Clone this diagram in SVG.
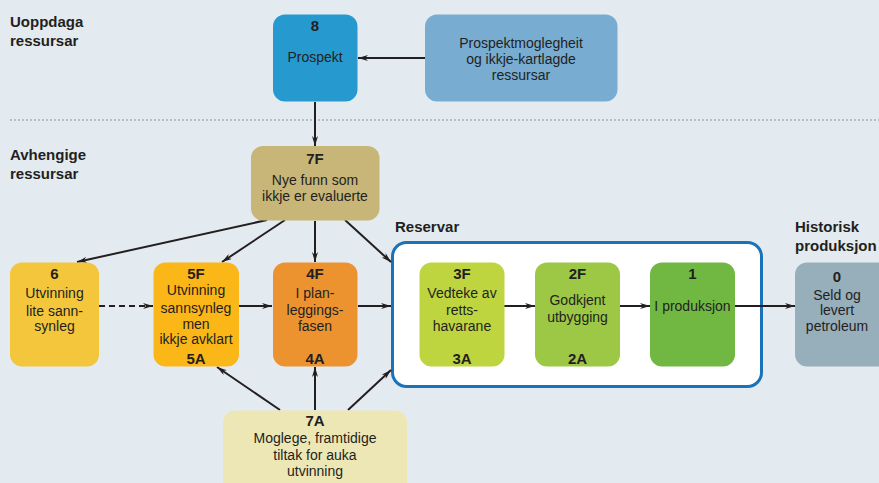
<svg xmlns="http://www.w3.org/2000/svg" width="879" height="483" viewBox="0 0 879 483">
<defs>
<marker id="ah" viewBox="0 0 10 6" refX="10" refY="3" markerWidth="10" markerHeight="6" markerUnits="userSpaceOnUse" orient="auto">
<path d="M0,0 L10,3 L0,6 L3,3 Z" fill="#231f20"/>
</marker>
<style>
text{font-family:"Liberation Sans Narrow","Liberation Sans",Arial,sans-serif;fill:#231f20;text-anchor:middle}
.t{font-size:14px}
.n{font-size:15px;font-weight:bold}
.h{font-size:15px;font-weight:bold;text-anchor:start}
.c line{stroke:#231f20;stroke-width:2;fill:none;marker-end:url(#ah)}
</style>
</defs>
<rect width="879" height="483" fill="#e4ebf0"/>
<line x1="10" y1="120" x2="879" y2="120" stroke="#a9b1b6" stroke-width="1.5" stroke-dasharray="2,2"/>
<g id="labels">
<text class="h" x="10" y="27">Uoppdaga</text>
<text class="h" x="10" y="46">ressursar</text>
<text class="h" x="10" y="160">Avhengige</text>
<text class="h" x="10" y="179">ressursar</text>
<text class="h" x="395" y="232">Reservar</text>
<text class="h" x="795" y="232">Historisk</text>
<text class="h" x="795" y="251">produksjon</text>
</g>
<g id="reservar">
<rect x="392.5" y="242.5" width="369" height="144" rx="14" fill="#ffffff" stroke="#1a72b8" stroke-width="3"/>
</g>
<g class="c" id="connectors">
<line x1="425" y1="58" x2="358" y2="58"/>
<line x1="315" y1="102" x2="315" y2="146"/>
<line x1="267" y1="220" x2="77" y2="262"/>
<line x1="285" y1="220" x2="222" y2="262"/>
<line x1="315" y1="221" x2="315" y2="262"/>
<line x1="345" y1="220" x2="391" y2="262"/>
<line x1="99" y1="306" x2="153" y2="306" stroke-dasharray="6,4"/>
<line x1="239" y1="306" x2="272" y2="306"/>
<line x1="358" y1="306" x2="391" y2="306"/>
<line x1="504" y1="306" x2="535" y2="306"/>
<line x1="620" y1="306" x2="650" y2="306"/>
<line x1="735" y1="306" x2="795" y2="306"/>
<line x1="280" y1="410" x2="217" y2="367"/>
<line x1="315" y1="410" x2="315" y2="367"/>
<line x1="348" y1="410" x2="391" y2="370"/>
</g>
<g id="n8">
<rect x="273" y="14.5" width="84.5" height="87" rx="12" fill="#2699cf"/>
<text class="n" x="315" y="31">8</text>
<text class="t" x="315" y="62">Prospekt</text>
</g>
<g id="nprosp">
<rect x="425" y="14.5" width="192.5" height="87" rx="12" fill="#78acd0"/>
<text class="t" x="521" y="47.5">Prospektmoglegheit</text>
<text class="t" x="521" y="64">og ikkje-kartlagde</text>
<text class="t" x="521" y="80">ressursar</text>
</g>
<g id="n7F">
<rect x="251" y="146" width="128.5" height="74.5" rx="12" fill="#c7b677"/>
<text class="n" x="315" y="164">7F</text>
<text class="t" x="315" y="185">Nye funn som</text>
<text class="t" x="315" y="201">ikkje er evaluerte</text>
</g>
<g id="n6">
<rect x="10" y="262.5" width="89" height="104" rx="12" fill="#f4c63c"/>
<text class="n" x="54.5" y="279">6</text>
<text class="t" x="54.5" y="298">Utvinning</text>
<text class="t" x="54.5" y="316">lite sann-</text>
<text class="t" x="54.5" y="331">synleg</text>
</g>
<g id="n5F">
<rect x="153.5" y="262.5" width="85.5" height="104" rx="12" fill="#fbb617"/>
<text class="n" x="196" y="279">5F</text>
<text class="t" x="196" y="295">Utvinning</text>
<text class="t" x="196" y="313">sannsynleg</text>
<text class="t" x="196" y="329">men</text>
<text class="t" x="196" y="344">ikkje avklart</text>
<text class="n" x="196" y="364">5A</text>
</g>
<g id="n4F">
<rect x="273" y="262.5" width="84.5" height="104" rx="12" fill="#ec9330"/>
<text class="n" x="315" y="279">4F</text>
<text class="t" x="315" y="298">I plan-</text>
<text class="t" x="315" y="315">leggings-</text>
<text class="t" x="315" y="331">fasen</text>
<text class="n" x="315" y="364">4A</text>
</g>
<g id="n3F">
<rect x="419.5" y="262.5" width="85" height="104" rx="12" fill="#bed540"/>
<text class="n" x="462" y="279">3F</text>
<text class="t" x="462" y="298">Vedteke av</text>
<text class="t" x="462" y="315">retts-</text>
<text class="t" x="462" y="331">havarane</text>
<text class="n" x="462" y="364">3A</text>
</g>
<g id="n2F">
<rect x="535" y="262.5" width="85" height="104" rx="12" fill="#9cc845"/>
<text class="n" x="577.5" y="279">2F</text>
<text class="t" x="577.5" y="305">Godkjent</text>
<text class="t" x="577.5" y="322">utbygging</text>
<text class="n" x="577.5" y="364">2A</text>
</g>
<g id="n1">
<rect x="650" y="262.5" width="85" height="104" rx="12" fill="#71b843"/>
<text class="n" x="692.5" y="279">1</text>
<text class="t" x="692.5" y="311">I produksjon</text>
</g>
<g id="n0">
<rect x="795" y="262.5" width="100" height="104" rx="12" fill="#97aebb"/>
<text class="n" x="837" y="282">0</text>
<text class="t" x="837" y="300">Seld og</text>
<text class="t" x="837" y="315">levert</text>
<text class="t" x="837" y="331">petroleum</text>
</g>
<g id="n7A">
<rect x="223" y="410.5" width="184" height="90" rx="12" fill="#ede7b6"/>
<text class="n" x="315" y="426">7A</text>
<text class="t" x="315" y="443">Moglege, framtidige</text>
<text class="t" x="315" y="460">tiltak for auka</text>
<text class="t" x="315" y="476">utvinning</text>
</g>
</svg>
